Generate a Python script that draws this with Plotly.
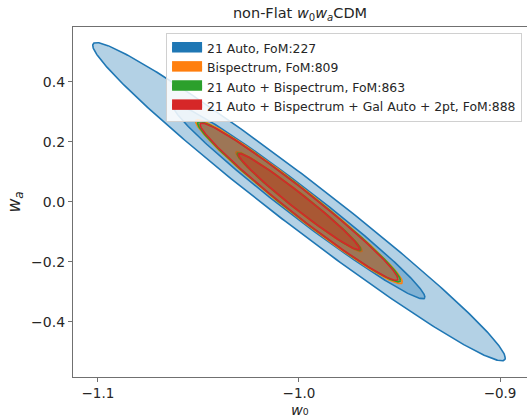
import numpy as np
import plotly.graph_objects as go

# ---- data ----
series_names = ["21 Auto, FoM:227", "Bispectrum, FoM:809",
                "21 Auto + Bispectrum, FoM:863",
                "21 Auto + Bispectrum + Gal Auto + 2pt, FoM:888"]
series_colors = ["#1f77b4", "#ff7f0e", "#2ca02c", "#d62728"]
center_w0 = [-1.0, -1.0, -1.0, -1.0]
center_wa = [0.0, 0.0, 0.0, 0.0]
sigma_w0 = [0.0413, 0.0207, 0.0203, 0.0198]
sigma_wa = [0.2134, 0.1100, 0.1075, 0.1055]
rho = [-0.982, -0.979, -0.980, -0.980]
dchi2_levels = [6.17, 2.30]  # 2-sigma, 1-sigma contours

x_ticks = [-1.1, -1.0, -0.9]
y_ticks = [-0.4, -0.2, 0.0, 0.2, 0.4]


def hex_rgba(h, a):
    h = h.lstrip("#")
    r, g, b = int(h[0:2], 16), int(h[2:4], 16), int(h[4:6], 16)
    return f"rgba({r},{g},{b},{a})"


fig = go.Figure()
t = np.linspace(0, 2 * np.pi, 400)
for i, name in enumerate(series_names):
    for lev in dchi2_levels:
        k = np.sqrt(lev)
        x = center_w0[i] + k * sigma_w0[i] * np.cos(t)
        y = center_wa[i] + k * sigma_wa[i] * (rho[i] * np.cos(t) + np.sqrt(1 - rho[i] ** 2) * np.sin(t))
        fig.add_trace(go.Scatter(
            x=x, y=y, mode="lines", fill="toself",
            fillcolor=hex_rgba(series_colors[i], 0.34),
            line=dict(color=series_colors[i], width=1.6),
            showlegend=False, hoverinfo="skip"))
# legend entries
for i, name in enumerate(series_names):
    fig.add_trace(go.Scatter(
        x=[None, None, None], y=[None, None, None], mode="lines", fill="toself",
        fillcolor=series_colors[i], line=dict(color=series_colors[i], width=9),
        name=name, showlegend=True))

fig.update_layout(
    width=529, height=417,
    margin=dict(l=73, r=2, t=27, b=40),
    paper_bgcolor="white", plot_bgcolor="white",
    font=dict(family="DejaVu Sans", color="#262626", size=14),
    title=dict(text="non-Flat <i>w</i><sub>0</sub><i>w<sub>a</sub></i>CDM",
               x=0.5, xref="paper", xanchor="center", y=0.968, yanchor="middle",
               font=dict(size=14.5)),
    legend=dict(x=0.205, y=0.983, xanchor="left", yanchor="top",
                bgcolor="rgba(255,255,255,0.85)", bordercolor="#d0d0d0", borderwidth=1,
                font=dict(size=12.4), tracegroupgap=0, itemwidth=30),
    xaxis=dict(range=[-1.1124, -0.8866], tickvals=x_ticks,
               ticktext=[f"\u2212{abs(v):.1f}" for v in x_ticks],
               showgrid=False, zeroline=False, showline=True, mirror=True,
               linecolor="#707070", linewidth=1.3, ticks="outside", ticklen=4,
               tickcolor="#707070", tickfont=dict(size=13.5), ticklabelstandoff=0),
    yaxis=dict(range=[-0.584, 0.582], tickvals=y_ticks,
               ticktext=[("\u2212" if v < 0 else "") + f"{abs(v):.1f}" for v in y_ticks],
               showgrid=False, zeroline=False, showline=True, mirror=False,
               linecolor="#707070", linewidth=1.3, ticks="outside", ticklen=4,
               tickcolor="#707070", tickfont=dict(size=14),
               title=dict(text="<i>w<sub>a</sub></i>", font=dict(size=17), standoff=6)),
    annotations=[dict(text="<i>w</i>\u2080", xref="paper", yref="paper",
                      x=0.5, y=-0.094, xanchor="center", yanchor="middle",
                      showarrow=False, borderpad=0, font=dict(size=14.5))],
)

fig.write_html("out.html")
